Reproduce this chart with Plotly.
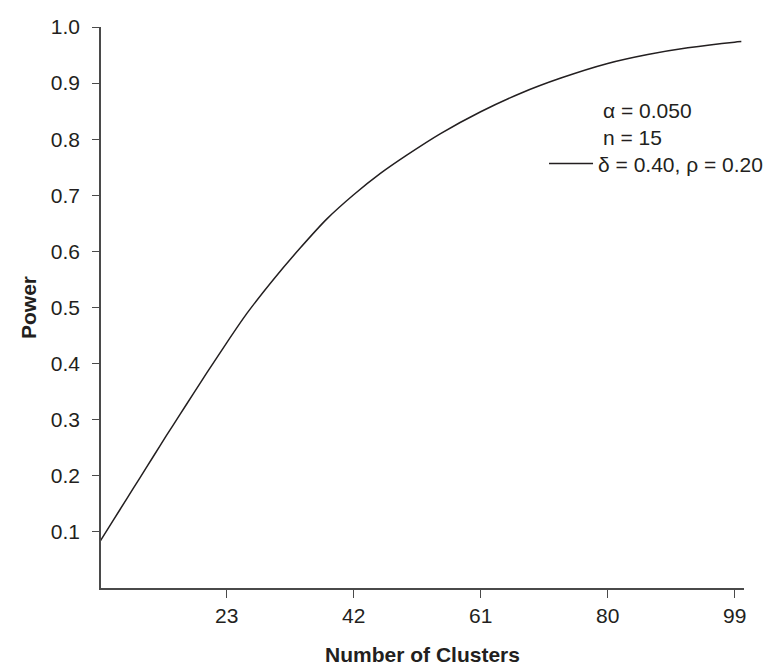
import plotly.graph_objects as go

# Data
clusters = [4, 6, 8, 10, 12, 14, 16, 18, 20, 23, 26, 30, 34, 38, 42, 46, 50, 55,
            61, 67, 73, 80, 86, 92, 99, 100]
power = [0.082, 0.120, 0.158, 0.196, 0.234, 0.272, 0.309, 0.346, 0.383, 0.437,
         0.489, 0.550, 0.606, 0.658, 0.701, 0.739, 0.772, 0.810, 0.849, 0.882,
         0.909, 0.935, 0.951, 0.963, 0.973, 0.974]
x_ticks = [23, 42, 61, 80, 99]
y_ticks = [0.1, 0.2, 0.3, 0.4, 0.5, 0.6, 0.7, 0.8, 0.9, 1.0]
series_name = "δ = 0.40, ρ = 0.20"
notes = ["α = 0.050", "n = 15"]

FONT = "Liberation Sans, Arial, Helvetica, sans-serif"
INK = "#231f20"
AXIS = "#4a4a4a"
FS = 21

fig = go.Figure()
fig.add_trace(go.Scatter(
    x=clusters, y=power, mode="lines", name=series_name,
    line=dict(color=INK, width=1.5, shape="spline", smoothing=0.6),
    showlegend=True,
))

fig.update_layout(
    width=772, height=666,
    margin=dict(l=93, r=20, t=19, b=86),
    paper_bgcolor="white", plot_bgcolor="white",
    font=dict(family=FONT, size=FS, color=INK),
    showlegend=True,
    legend=dict(x=0.689, y=0.756, xanchor="left", yanchor="middle",
                bgcolor="rgba(0,0,0,0)", borderwidth=0,
                font=dict(size=FS, color=INK), itemwidth=44,
                tracegroupgap=0),
    xaxis=dict(range=[4.2, 100.4], tickvals=x_ticks, ticktext=[str(v) for v in x_ticks],
               showline=True, linecolor=AXIS, linewidth=1.5, mirror=False,
               ticks="outside", ticklen=8, tickwidth=1.2, tickcolor=AXIS,
               showgrid=False, zeroline=False, ticklabelstandoff=0,
               automargin=False,
               title=dict(text="<b>Number of Clusters</b>", standoff=21,
                          font=dict(size=FS, color=INK))),
    yaxis=dict(range=[0, 1.0], tickvals=y_ticks, ticktext=[f"{v:.1f}" for v in y_ticks],
               showline=True, linecolor=AXIS, linewidth=1.5, mirror=False,
               ticks="outside", ticklen=7, tickwidth=1.2, tickcolor=AXIS,
               showgrid=False, zeroline=False, ticklabelstandoff=8,
               automargin=False,
               title=dict(text="<b>Power</b>", standoff=8,
                          font=dict(size=FS, color=INK))),
)

fig.add_annotation(x=0.777, y=0.875, xref="paper", yref="paper",
                   xanchor="left", yanchor="top", align="left",
                   text="<br>".join(notes), showarrow=False,
                   font=dict(size=FS, color=INK, family=FONT))

fig.write_html("out.html")
